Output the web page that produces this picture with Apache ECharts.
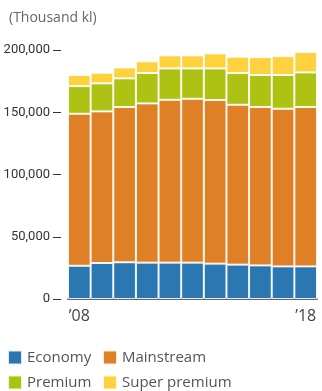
<!DOCTYPE html>
<html>
<head>
<meta charset="utf-8">
<script src="https://cdn.jsdelivr.net/npm/echarts@6/dist/echarts.min.js"></script>
<style>
  html, body { margin: 0; padding: 0; background: #fff; }
  #chart { width: 322px; height: 391px; }
</style>
</head>
<body>
<div id="chart"></div>
<script>
// 年份（2008-2018）
var years = ['2008', '2009', '2010', '2011', '2012', '2013', '2014', '2015', '2016', '2017', '2018'];
var yearLabels = ['\u201908', '', '', '', '', '', '', '', '', '', '\u201918'];

// 各区分数量（千kl）
var economy = [26700, 28900, 29500, 29200, 29200, 29200, 28400, 27600, 27000, 26200, 26200];
var mainstream = [122100, 121800, 124700, 127900, 130800, 131600, 131400, 128400, 127200, 126600, 128000];
var premium = [22200, 22500, 23000, 24400, 25200, 24400, 25400, 25500, 25700, 27100, 27800];
var superPremium = [8900, 8500, 8800, 9400, 10500, 10500, 12100, 13100, 14400, 15200, 16300];

var yTicks = [0, 50000, 100000, 150000, 200000];

function DrawVolume() {
    var chart = echarts.init(document.getElementById('chart'));

    function makeSeries(name, data, color) {
        return {
            name: name,
            type: 'bar',
            stack: 'total',
            barCategoryGap: '0%',
            data: data,
            itemStyle: {
                color: color,
                borderColor: 'rgba(255,255,255,0.85)',
                borderWidth: 1
            }
        };
    }

    var option = {
        animation: false,
        title: {
            text: '(Thousand kl)',
            left: 4,
            top: 6,
            textStyle: {
                color: '#666',
                fontSize: 14,
                fontWeight: 'normal',
                fontFamily: 'Open Sans, Noto Sans, sans-serif'
            }
        },
        grid: {
            left: 68,
            right: 5,
            top: 50,
            bottom: 92
        },
        legend: {
            orient: 'horizontal',
            left: 2,
            top: 346,
            width: 260,
            padding: [0, 5],
            itemWidth: 14,
            itemHeight: 14,
            itemGap: 2,
            icon: 'rect',
            textStyle: {
                color: '#555',
                fontSize: 15,
                width: 73,
                height: 23,
                lineHeight: 23,
                overflow: 'none',
                fontFamily: 'Open Sans, Noto Sans, sans-serif'
            },
            data: ['Economy', 'Mainstream', 'Premium', 'Super premium']
        },
        xAxis: {
            type: 'category',
            data: years,
            axisLine: { lineStyle: { color: '#333', width: 1.5 } },
            axisTick: { show: false },
            axisLabel: {
                interval: 0,
                margin: 9,
                color: '#444',
                fontSize: 16,
                fontFamily: 'Open Sans, Noto Sans, sans-serif',
                formatter: function (v, i) { return yearLabels[i]; }
            }
        },
        yAxis: {
            type: 'value',
            min: yTicks[0],
            max: yTicks[yTicks.length - 1],
            interval: 50000,
            offset: 7,
            axisLine: { show: false },
            axisTick: { show: true, length: 8, lineStyle: { color: '#333' } },
            splitLine: { show: false },
            axisLabel: {
                margin: 11,
                color: '#333',
                fontSize: 13,
                fontFamily: 'Liberation Sans Narrow, Roboto, sans-serif',
                formatter: function (v) { return v.toLocaleString('en-US'); }
            }
        },
        series: [
            makeSeries('Economy', economy, '#2b77b2'),
            makeSeries('Mainstream', mainstream, '#e08026'),
            makeSeries('Premium', premium, '#adc213'),
            makeSeries('Super premium', superPremium, '#fdd23e')
        ]
    };
    chart.setOption(option);
}

DrawVolume();
</script>
</body>
</html>
